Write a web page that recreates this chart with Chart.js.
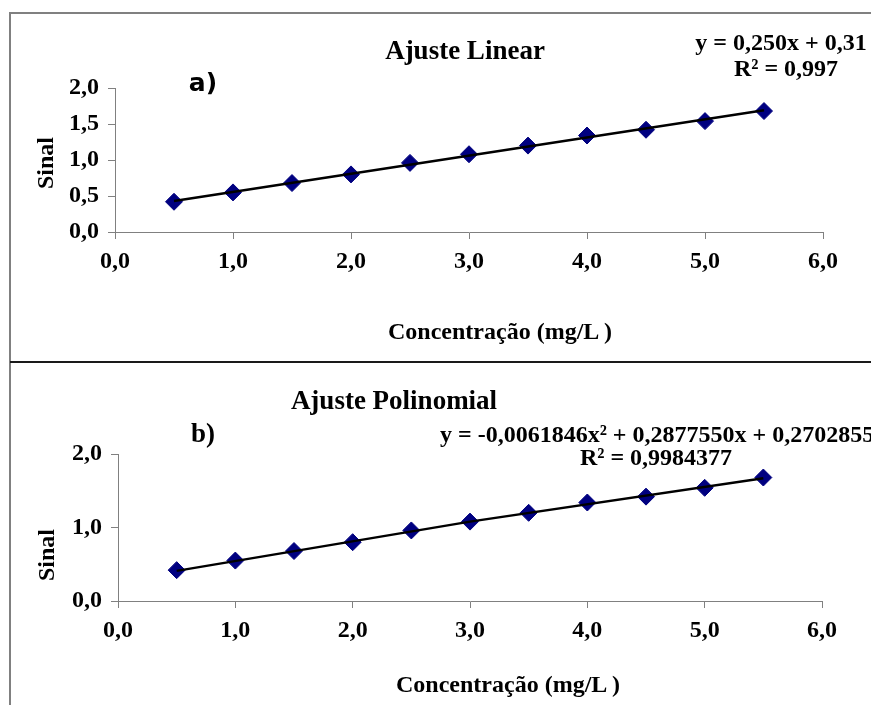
<!DOCTYPE html>
<html>
<head>
<meta charset="utf-8">
<script src="https://cdn.jsdelivr.net/npm/chart.js@4"></script>
<style>
  html, body { margin: 0; padding: 0; background: #fff; }
  body { width: 871px; height: 705px; position: relative; overflow: hidden; }
  canvas { position: absolute; left: 0; }
  .t { position: absolute; white-space: nowrap; line-height: 1; color: #000;
       font-family: "Liberation Serif", "Times New Roman", serif; font-weight: bold; }
  .c { transform: translate(-50%, -50%); }
  .l { transform: translate(0, -50%); }
  .rot { transform: translate(-50%, -50%) rotate(-90deg); }
  .line { position: absolute; }
</style>
</head>
<body>
<div class="line" style="left:9px;top:12px;width:2px;height:693px;background:#808080"></div>
<div class="line" style="left:10px;top:12px;width:861px;height:2px;background:#808080"></div>
<div class="line" style="left:10px;top:361px;width:861px;height:2px;background:#1a1a1a"></div>

<canvas id="chartA" width="871" height="362" style="top:0"></canvas>
<canvas id="chartB" width="871" height="343" style="top:362px"></canvas>

<div class="t c" style="left:465px;top:50px;font-size:27px">Ajuste Linear</div>
<div class="t c" style="left:203px;top:82px;font-size:25px;font-family:'DejaVu Sans',sans-serif">a)</div>
<div class="t c" style="left:781px;top:42px;font-size:24px">y = 0,250x + 0,31</div>
<div class="t c" style="left:786px;top:68px;font-size:24px">R² = 0,997</div>
<div class="t rot" style="left:45px;top:163px;font-size:24px">Sinal</div>
<div class="t c" style="left:500px;top:331px;font-size:24px">Concentração (mg/L )</div>

<div class="t c" style="left:394px;top:400px;font-size:27px">Ajuste Polinomial</div>
<div class="t c" style="left:203px;top:433px;font-size:27px">b)</div>
<div class="t l" style="left:440px;top:434px;font-size:24px">y = -0,0061846x² + 0,2877550x + 0,2702855</div>
<div class="t c" style="left:656px;top:457px;font-size:24px">R² = 0,9984377</div>
<div class="t rot" style="left:46px;top:555px;font-size:24px">Sinal</div>
<div class="t c" style="left:508px;top:684px;font-size:24px">Concentração (mg/L )</div>

<script>
// Data
const concentracao = [0.5, 1.0, 1.5, 2.0, 2.5, 3.0, 3.5, 4.0, 4.5, 5.0, 5.5];
const sinal = [0.42, 0.55, 0.68, 0.80, 0.96, 1.08, 1.20, 1.34, 1.42, 1.54, 1.68];
const trendLinearX = [0.5, 5.5];
const trendLinearY = [0.43, 1.69];
const trendPolyX = [0.5, 3.0, 5.5];
const trendPolyY = [0.41, 1.08, 1.67];
const xTicks = [0, 1, 2, 3, 4, 5, 6];
const yTicksA = [0, 0.5, 1.0, 1.5, 2.0];
const yTicksB = [0, 1.0, 2.0];

const serif = '"Liberation Serif", "Times New Roman", serif';
const fmt = v => Number(v).toFixed(1).replace('.', ',');
const toXY = (xs, ys) => xs.map((x, i) => ({ x: x, y: ys[i] }));

function makeChart(id, tx, ty, yTicks, dims) {
  return new Chart(document.getElementById(id), {
    type: 'scatter',
    data: {
      datasets: [
        {
          data: toXY(tx, ty), showLine: true, borderColor: '#000', borderWidth: 2.5,
          pointRadius: 0, pointHoverRadius: 0, order: 0, fill: false
        },
        {
          data: toXY(concentracao, sinal), pointStyle: 'rectRot', pointRadius: 8.5,
          pointHoverRadius: 8.5, backgroundColor: '#000080', borderColor: '#000080',
          borderWidth: 1, order: 1
        }
      ]
    },
    options: {
      responsive: false, animation: false, events: [],
      layout: { padding: { left: 0, right: dims.right, top: dims.top, bottom: 0 } },
      plugins: { legend: { display: false }, tooltip: { enabled: false } },
      scales: {
        x: {
          type: 'linear', min: 0, max: 6,
          afterBuildTicks: s => { s.ticks = xTicks.map(v => ({ value: v })); },
          afterFit: s => { s.height = dims.xh; },
          grid: { drawOnChartArea: false, drawTicks: true, tickLength: 7, color: '#808080' },
          border: { color: '#808080', width: 1 },
          ticks: { color: '#000', padding: 8, maxRotation: 0, autoSkip: false,
                   font: { family: serif, size: 24, weight: 'bold' }, callback: v => fmt(v) }
        },
        y: {
          type: 'linear', min: 0, max: 2,
          afterBuildTicks: s => { s.ticks = yTicks.map(v => ({ value: v })); },
          afterFit: s => { s.width = dims.yw; },
          grid: { drawOnChartArea: false, drawTicks: true, tickLength: 7, color: '#808080' },
          border: { color: '#808080', width: 1 },
          ticks: { color: '#000', padding: 9, autoSkip: false,
                   font: { family: serif, size: 24, weight: 'bold' }, callback: v => fmt(v) }
        }
      }
    }
  });
}

makeChart('chartA', trendLinearX, trendLinearY, yTicksA, { right: 48, top: 88, xh: 130, yw: 115 });
makeChart('chartB', trendPolyX, trendPolyY, yTicksB, { right: 49, top: 92, xh: 104, yw: 118 });
</script>
</body>
</html>
